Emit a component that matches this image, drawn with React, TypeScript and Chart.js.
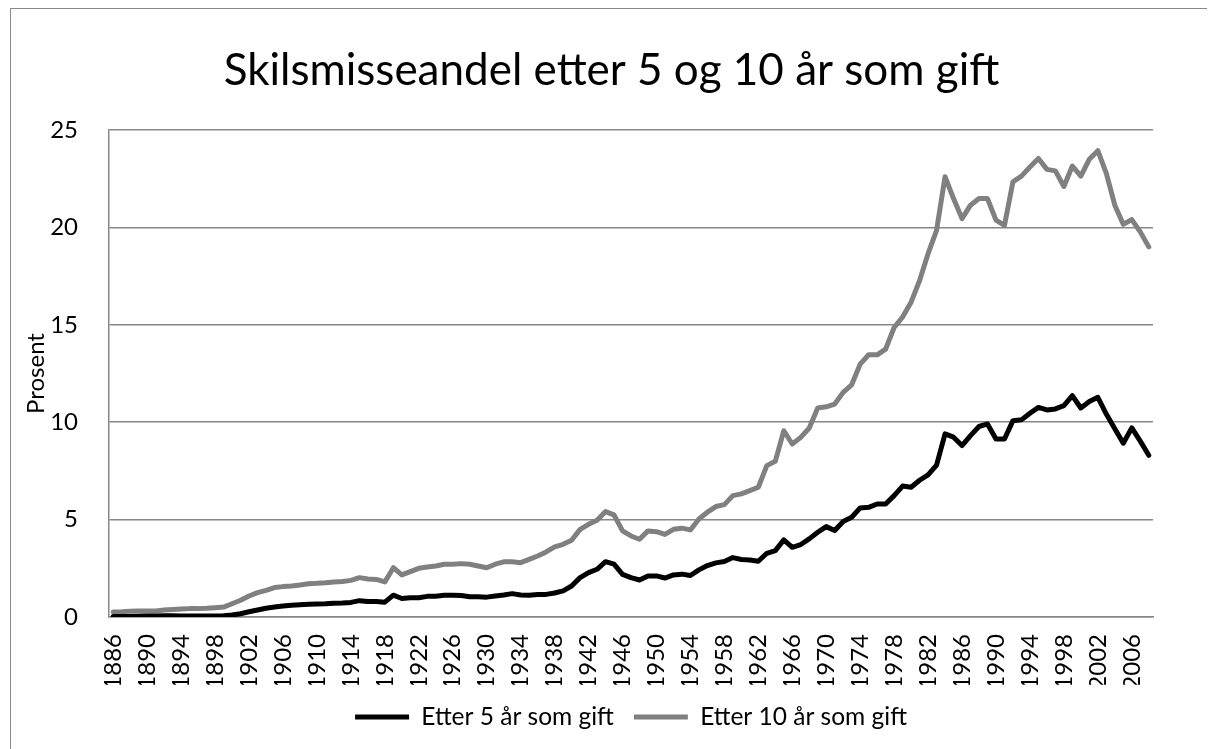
import React, { useEffect, useRef } from "react";
import { Chart, registerables } from "chart.js";

Chart.register(...registerables);

const years: string[] = [
  "1886","1887","1888","1889","1890","1891","1892","1893","1894","1895",
  "1896","1897","1898","1899","1900","1901","1902","1903","1904","1905",
  "1906","1907","1908","1909","1910","1911","1912","1913","1914","1915",
  "1916","1917","1918","1919","1920","1921","1922","1923","1924","1925",
  "1926","1927","1928","1929","1930","1931","1932","1933","1934","1935",
  "1936","1937","1938","1939","1940","1941","1942","1943","1944","1945",
  "1946","1947","1948","1949","1950","1951","1952","1953","1954","1955",
  "1956","1957","1958","1959","1960","1961","1962","1963","1964","1965",
  "1966","1967","1968","1969","1970","1971","1972","1973","1974","1975",
  "1976","1977","1978","1979","1980","1981","1982","1983","1984","1985",
  "1986","1987","1988","1989","1990","1991","1992","1993","1994","1995",
  "1996","1997","1998","1999","2000","2001","2002","2003","2004","2005",
  "2006","2007","2008",
];

const tickLabels: string[] = [
  "1886","1890","1894","1898","1902","1906","1910","1914","1918","1922",
  "1926","1930","1934","1938","1942","1946","1950","1954","1958","1962",
  "1966","1970","1974","1978","1982","1986","1990","1994","1998","2002","2006",
];

const etter5: number[] = [
  0.02,0.02,0.03,0.04,0.05,0.05,0.06,0.06,0.05,0.05,
  0.05,0.05,0.05,0.06,0.1,0.17,0.27,0.36,0.45,0.51,
  0.56,0.6,0.63,0.65,0.67,0.68,0.7,0.72,0.75,0.84,
  0.8,0.8,0.76,1.12,0.95,0.99,0.99,1.06,1.07,1.12,
  1.12,1.1,1.04,1.04,1.02,1.08,1.13,1.2,1.13,1.12,
  1.16,1.16,1.23,1.34,1.59,2.02,2.28,2.45,2.84,2.71,
  2.19,2.02,1.9,2.11,2.11,2.0,2.16,2.2,2.13,2.42,
  2.64,2.78,2.85,3.05,2.95,2.93,2.86,3.27,3.41,3.96,
  3.58,3.72,4.01,4.35,4.64,4.44,4.9,5.12,5.6,5.63,
  5.8,5.8,6.23,6.72,6.66,7.02,7.3,7.8,9.4,9.23,
  8.8,9.31,9.78,9.91,9.14,9.14,10.08,10.12,10.46,10.76,
  10.63,10.68,10.85,11.36,10.73,11.06,11.28,10.42,9.66,8.92,
  9.71,9.03,8.3,
];

const etter10: number[] = [
  0.26,0.27,0.29,0.31,0.31,0.31,0.36,0.39,0.41,0.43,
  0.43,0.45,0.48,0.51,0.68,0.86,1.08,1.25,1.37,1.51,
  1.56,1.59,1.64,1.71,1.73,1.76,1.8,1.82,1.88,2.02,
  1.95,1.93,1.8,2.53,2.16,2.33,2.5,2.57,2.62,2.71,
  2.71,2.74,2.71,2.62,2.53,2.71,2.83,2.84,2.79,2.96,
  3.13,3.34,3.6,3.73,3.94,4.5,4.76,4.97,5.41,5.24,
  4.42,4.16,3.99,4.42,4.38,4.24,4.5,4.56,4.47,5.03,
  5.38,5.67,5.77,6.23,6.32,6.49,6.66,7.77,7.99,9.56,
  8.88,9.22,9.7,10.73,10.79,10.93,11.53,11.92,12.98,13.46,
  13.46,13.75,14.86,15.4,16.16,17.27,18.65,19.85,22.6,21.48,
  20.45,21.14,21.48,21.48,20.37,20.1,22.34,22.63,23.1,23.54,
  22.98,22.9,22.1,23.15,22.63,23.5,23.94,22.77,21.14,20.16,
  20.4,19.77,19.0,
];

const yTicks: number[] = [0, 5, 10, 15, 20, 25];

const GRID = "#878787";
const FONT = "Lato";

export default function App() {
  const ref = useRef<HTMLCanvasElement | null>(null);

  useEffect(() => {
    if (!ref.current) return;
    const chart = new Chart(ref.current, {
      type: "line",
      data: {
        labels: years,
        datasets: [
          {
            label: "Etter 5 år som gift",
            data: etter5,
            borderColor: "#000000",
            backgroundColor: "#000000",
            borderWidth: 5,
            pointRadius: 0,
            pointStyle: "line",
            tension: 0,
            borderJoinStyle: "round",
            borderCapStyle: "round",
          },
          {
            label: "Etter 10 år som gift",
            data: etter10,
            borderColor: "#808080",
            backgroundColor: "#808080",
            borderWidth: 5,
            pointRadius: 0,
            pointStyle: "line",
            tension: 0,
            borderJoinStyle: "round",
            borderCapStyle: "round",
          },
        ],
      },
      options: {
        responsive: false,
        animation: false,
        devicePixelRatio: 1,
        layout: { padding: { left: 0, right: 0, top: 0, bottom: 9.75 } },
        plugins: {
          title: {
            display: true,
            text: "Skilsmisseandel etter 5 og 10 år som gift",
            color: "#000",
            font: { family: FONT, size: 44, weight: "normal" },
            padding: { top: 35, bottom: 33.2 },
          },
          legend: {
            display: true,
            position: "bottom",
            fullSize: false,
            labels: {
              color: "#000",
              font: { family: FONT, size: 24.5 },
              usePointStyle: true,
              pointStyleWidth: 54,
              padding: 20,
            },
          },
          tooltip: { enabled: false },
        },
        scales: {
          x: {
            offset: true,
            grid: { display: false, drawTicks: false },
            border: { display: true, color: GRID, width: 1.5 },
            ticks: {
              autoSkip: false,
              maxRotation: 90,
              minRotation: 90,
              padding: 17,
              color: "#000",
              font: { family: FONT, size: 24 },
              callback: (_v: any, i: number) =>
                tickLabels.includes(years[i]) ? years[i] : "",
            },
            afterFit: (s: any) => {
              s.height = 67.75;
            },
          },
          y: {
            min: 0,
            max: 25,
            afterBuildTicks: (s: any) => {
              s.ticks = yTicks.map((v) => ({ value: v }));
            },
            grid: { color: GRID, lineWidth: 1.5, drawTicks: false },
            border: { display: true, color: GRID, width: 1.5 },
            ticks: {
              padding: 31,
              color: "#000",
              font: { family: FONT, size: 24 },
            },
            title: {
              display: true,
              text: "Prosent",
              color: "#000",
              font: { family: FONT, size: 24 },
              padding: { top: 11, bottom: 0 },
            },
            afterFit: (s: any) => {
              s.width = 98;
            },
          },
          yRightSpace: {
            position: "right",
            display: true,
            grid: { display: false, drawTicks: false },
            border: { display: false },
            ticks: { display: false },
            afterFit: (s: any) => {
              s.width = 59;
            },
          },
        },
      },
    });
    return () => chart.destroy();
  }, []);

  return (
    <div
      style={{
        marginLeft: 2,
        width: 1203,
        height: 741,
        border: "1px solid #898989",
        borderBottom: "none",
        boxSizing: "border-box",
        overflow: "hidden",
      }}
    >
      <canvas ref={ref} width={1201} height={740} style={{ display: "block" }} />
    </div>
  );
}
